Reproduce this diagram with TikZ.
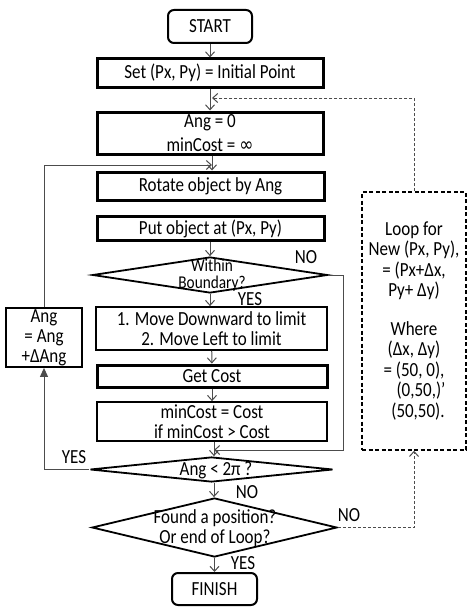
\documentclass[tikz,border=0pt]{standalone}
\usepackage{fontspec}
\setmainfont{Carlito}[FakeStretch=0.85]
\newfontfamily\symfont{DejaVu Sans}[FakeStretch=0.85]
\usetikzlibrary{arrows.meta}
\usetikzlibrary{shapes.geometric}
\usetikzlibrary{calc}
\usepackage{xcolor}

\begin{document}
\begin{tikzpicture}[x=1pt,y=-1pt,
    every node/.style={font=\fontsize{20}{21}\selectfont},
    term/.style={draw, line width=2pt, rounded corners=6pt, inner sep=0pt},
    proc/.style={draw, line width=3pt, inner sep=0pt},
    procthin/.style={draw, line width=1.8pt, inner sep=0pt},
    dec/.style={draw, line width=1.8pt, diamond, inner sep=0pt},
    txt/.style={align=center, inner sep=0pt},
    flow/.style={draw=black!70, line width=1pt, -{Straight Barb[length=5pt,width=9pt]}},
    back/.style={draw=black!70, line width=1pt, dashed, dash pattern=on 3pt off 2pt, -{Straight Barb[length=5pt,width=9pt]}}]
      \useasboundingbox (0,0) rectangle (470,610);

      % Main column
      \node[term, minimum width=84pt, minimum height=33pt] (start) at (210,26.5) {START};
      \node[proc, minimum width=226pt, minimum height=28pt] (set) at (210,73) {Set (Px, Py) = Initial Point};
      \node[proc, minimum width=226pt, minimum height=42pt, txt, font=\fontsize{20}{24}\selectfont] (ang) at (210,133) {Ang = 0\\minCost = {\symfont ∞}};
      \node[proc, minimum width=227pt, minimum height=28pt] (rot) at (210.5,186) {Rotate object by Ang};
      \node[proc, minimum width=227pt, minimum height=24pt] (put) at (210.5,228.5) {Put object at (Px, Py)};
      \node[dec, minimum width=235pt, minimum height=36pt] (wb) at (210,275) {};
      \node[txt, font=\fontsize{18}{17}\selectfont] (wbt) at (212,275) {Within\\Boundary?};
      \node[procthin, minimum width=231pt, minimum height=43pt, txt, font=\fontsize{20}{20}\selectfont] (move) at (211.5,328.5) {1. Move Downward to limit\\2. Move Left to limit};
      \node[proc, minimum width=230pt, minimum height=22pt] (get) at (212,376) {Get Cost};
      \node[procthin, minimum width=230pt, minimum height=39pt, txt, font=\fontsize{20}{20}\selectfont] (mc) at (212,421.5) {minCost = Cost\\if minCost > Cost};
      \node[dec, minimum width=243pt, minimum height=25pt] (ac) at (211.5,469.5) {};
      \node[txt] (act) at (216,470) {Ang < 2π ?};
      \node[dec, minimum width=245pt, minimum height=59pt] (fd) at (214.5,527.5) {};
      \node[txt, font=\fontsize{20}{20}\selectfont] (fdt) at (215,528) {Found a position?\\Or end of Loop?};
      \node[term, minimum width=85pt, minimum height=32pt] (fin) at (214.5,589) {FINISH};

      % Side boxes
      \node[procthin, minimum width=76pt, minimum height=59pt, txt, font=\fontsize{20}{20}\selectfont] (inc) at (44,337.5) {Ang\\= Ang\\+ΔAng};
      \node[draw, line width=1.5pt, dash pattern=on 4pt off 2.5pt, minimum width=104pt, minimum height=258pt, inner sep=0pt] (loop) at (414,321) {};
      \node[txt, font=\fontsize{20}{20.5}\selectfont] (loopt) at (414,321) {Loop for\\New (Px, Py),\\= (Px+Δx,\\Py+ Δy)\\[18pt]Where\\(Δx, Δy)\\= (50, 0),\\\hspace*{14pt}(0,50,)'\\\hspace*{8pt}(50,50).};

      % Joints
      \coordinate (j1) at (212,165);
      \coordinate (j2) at (214,450);
      \coordinate (j3) at (212,98);

      % Connectors
      \draw[flow] (start) -- (set);
      \draw[flow] (set) -- (ang);
      \draw[flow] (ang.south -| j1) -- (rot.north -| j1);
      \draw[flow] (put.south -| wb.north) -- (wb.north);
      \draw[flow] (wb.south) -- (move.north -| wb.south);
      \draw[flow] (move) -- (get);
      \draw[flow] (get) -- (mc);
      \draw[flow] (mc.south -| j2) -- (ac.north -| j2);
      \draw[flow] (ac.south -| j2) -- (fd.north -| j2);
      \draw[flow] (fd.south -| fin.north) -- (fin.north);

      % Loops
      \draw[draw=black!70, line width=1pt, -{Triangle[length=9pt,width=8pt]}] (ac.west) -| (inc.south);
      \draw[flow] (inc.north) |- (j1);
      \draw[flow] (wb.east) -- ++(15,0) |- (j2);
      \draw[back] (fd.east) -| (loop.south);
      \draw[back] (loop.north) |- (j3);

      % Labels
      \node (no1) at (306,257) {NO};
      \node (yes1) at (250,299) {YES};
      \node (yes2) at (74,457) {YES};
      \node (no2) at (247,492) {NO};
      \node (no3) at (349,515) {NO};
      \node (yes3) at (243,563) {YES};
\end{tikzpicture}
\end{document}
